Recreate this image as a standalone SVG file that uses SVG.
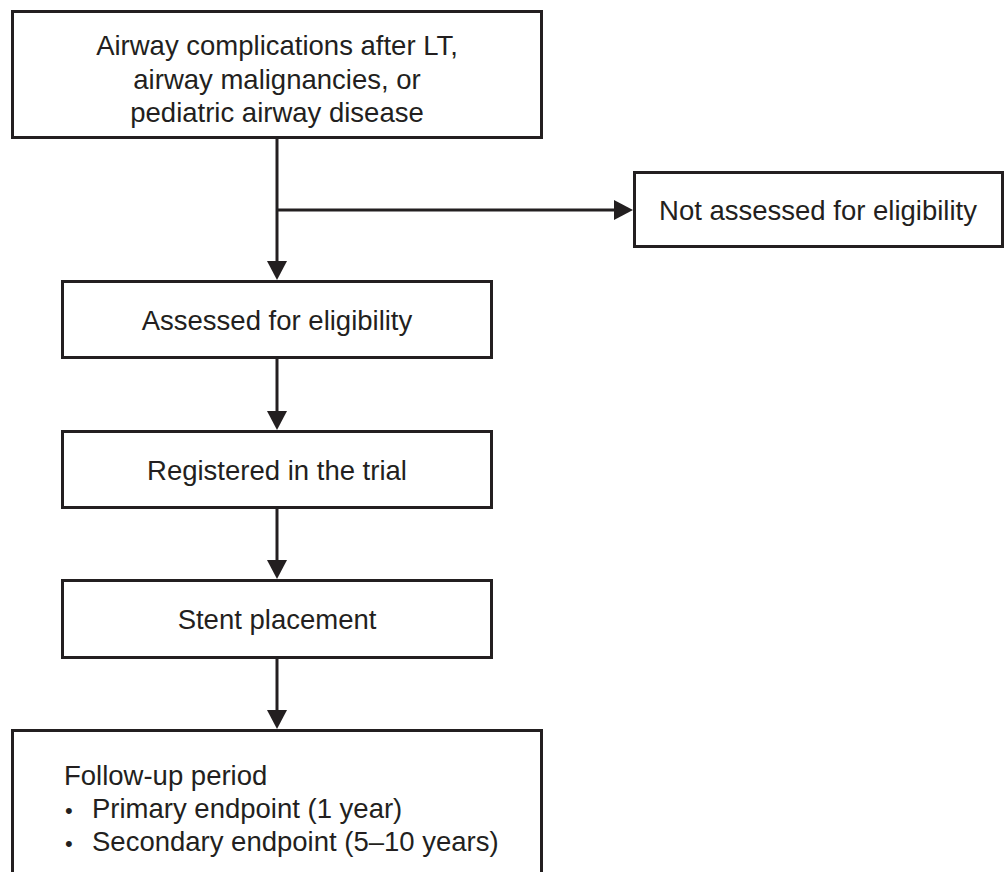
<svg xmlns="http://www.w3.org/2000/svg" width="1007" height="872" viewBox="0 0 1007 872">
  <style>
    .box { fill: #ffffff; stroke: #231f20; stroke-width: 3; }
    .conn { fill: none; stroke: #231f20; stroke-width: 3; }
    .t { font-family: "Liberation Sans", Arial, sans-serif; font-size: 27.5px; fill: #231f20; }
    .c { text-anchor: middle; }
    .b { font-size: 22px; }
  </style>
  <defs>
    <marker id="arrow" markerUnits="userSpaceOnUse" markerWidth="19" markerHeight="20" viewBox="0 0 19 20" refX="8" refY="10" orient="auto">
      <path d="M0,0 L19,10 L0,20 Z" fill="#231f20"/>
    </marker>
  </defs>
  <rect width="1007" height="872" fill="#ffffff"/>

  <g id="connectors">
    <line class="conn" x1="277" y1="139" x2="277" y2="269" marker-end="url(#arrow)"/>
    <line class="conn" x1="277" y1="210" x2="622" y2="210" marker-end="url(#arrow)"/>
    <line class="conn" x1="277" y1="359" x2="277" y2="419" marker-end="url(#arrow)"/>
    <line class="conn" x1="277" y1="509" x2="277" y2="568" marker-end="url(#arrow)"/>
    <line class="conn" x1="277" y1="659" x2="277" y2="718" marker-end="url(#arrow)"/>
  </g>

  <g id="node-population">
    <rect class="box" x="12.5" y="11.5" width="529" height="126"/>
    <text class="t c" x="277" y="55">Airway complications after LT,</text>
    <text class="t c" x="277" y="89">airway malignancies, or</text>
    <text class="t c" x="277" y="122">pediatric airway disease</text>
  </g>

  <g id="node-not-assessed">
    <rect class="box" x="634.5" y="172.5" width="368" height="74"/>
    <text class="t c" x="818" y="220">Not assessed for eligibility</text>
  </g>

  <g id="node-assessed">
    <rect class="box" x="62.5" y="281.5" width="429" height="76"/>
    <text class="t c" x="277" y="330">Assessed for eligibility</text>
  </g>

  <g id="node-registered">
    <rect class="box" x="62.5" y="431.5" width="429" height="76"/>
    <text class="t c" x="277" y="480">Registered in the trial</text>
  </g>

  <g id="node-stent">
    <rect class="box" x="62.5" y="580.5" width="429" height="77"/>
    <text class="t c" x="277" y="629">Stent placement</text>
  </g>

  <g id="node-followup">
    <rect class="box" x="12.5" y="730.5" width="529" height="160"/>
    <text class="t" x="64" y="785">Follow-up period</text>
    <text class="t" x="65" y="818"><tspan class="b">•</tspan><tspan x="92">Primary endpoint (1 year)</tspan></text>
    <text class="t" x="65" y="851"><tspan class="b">•</tspan><tspan x="92">Secondary endpoint (5–10 years)</tspan></text>
  </g>
</svg>
